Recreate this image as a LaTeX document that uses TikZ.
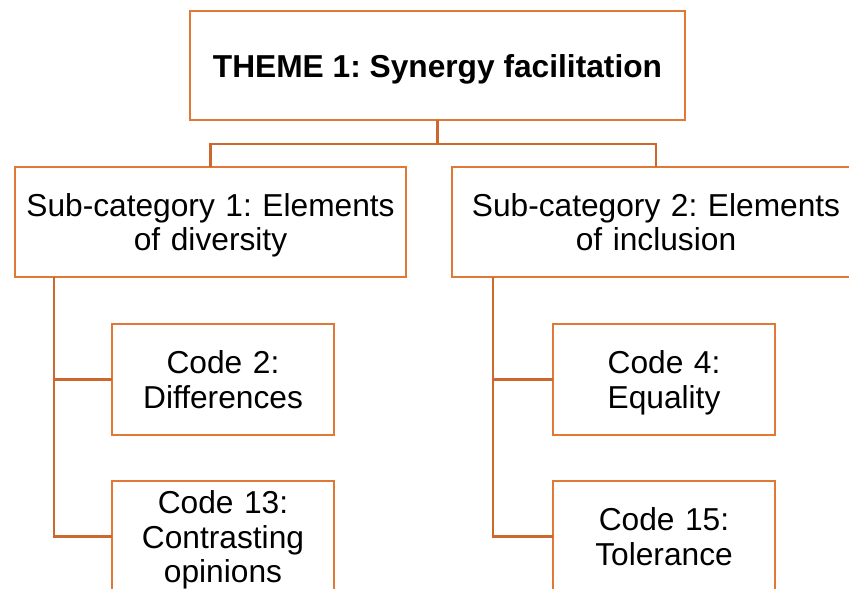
\documentclass[tikz,border=0pt]{standalone}
\usepackage{fontspec}
\setmainfont{Liberation Sans}
\usepackage{tikz}
\usetikzlibrary{positioning}
\usetikzlibrary{calc}

\definecolor{boxorange}{RGB}{224,121,54}
\definecolor{linkorange}{RGB}{204,104,46}

\tikzset{
	box/.style={draw=boxorange, line width=2.6pt, fill=white, align=center, inner sep=0pt, outer sep=0pt,
		font=\fontsize{31.7}{34.5}\selectfont,
		execute at begin node=\rule{0pt}{30pt}, execute at end node=\vphantom{gy}},
	theme/.style={box, minimum width=495pt, minimum height=109pt, font=\fontsize{31.7}{34.5}\selectfont\bfseries},
	subcat/.style={box, text width=385pt, minimum height=110pt},
	code/.style={box, text width=215pt, minimum width=222pt, minimum height=111pt},
	link/.style={draw=linkorange, line width=2.4pt}
}

\begin{document}
\frenchspacing
\begin{tikzpicture}[x=1pt, y=-1pt]
	%\draw [help lines, step=10, gray] (0,0) grid (849, 589);
	\useasboundingbox (0,0) rectangle (849,589);
	\clip (0,0) rectangle (849,589);

	\node (T1) [theme] at (437.5,65.5) {THEME 1: Synergy facilitation};

	\node (S1) [subcat, minimum width=391pt, below=47pt of T1, xshift=-227pt] {Sub-category 1: Elements\\of diversity};
	\node (S2) [subcat, minimum width=408pt, right=46pt of S1] {Sub-category 2: Elements\\of inclusion};

	\node (C2) [code, below right=47pt and 97pt of S1.south west] {Code 2:\\Differences};
	\node (C13) [code, below=46pt of C2] {Code 13:\\Contrasting\\opinions};

	\node (C4) [code, below right=47pt and 101pt of S2.south west] {Code 4:\\Equality};
	\node (C15) [code, below=46pt of C4] {Code 15:\\Tolerance};

	% theme to sub-categories
	\coordinate [below=24pt of T1] (split);
	\draw [link] (T1.south) -- (split) -| (S1.north);
	\draw [link] (split) -| (S2.north);

	% sub-categories to codes
	\coordinate (trunk1) at ([xshift=39pt]S1.south west);
	\draw [link] (trunk1) |- (C2.west);
	\draw [link] (trunk1) |- (C13.west);

	\coordinate (trunk2) at ([xshift=41pt]S2.south west);
	\draw [link] (trunk2) |- (C4.west);
	\draw [link] (trunk2) |- (C15.west);

\end{tikzpicture}
\end{document}
